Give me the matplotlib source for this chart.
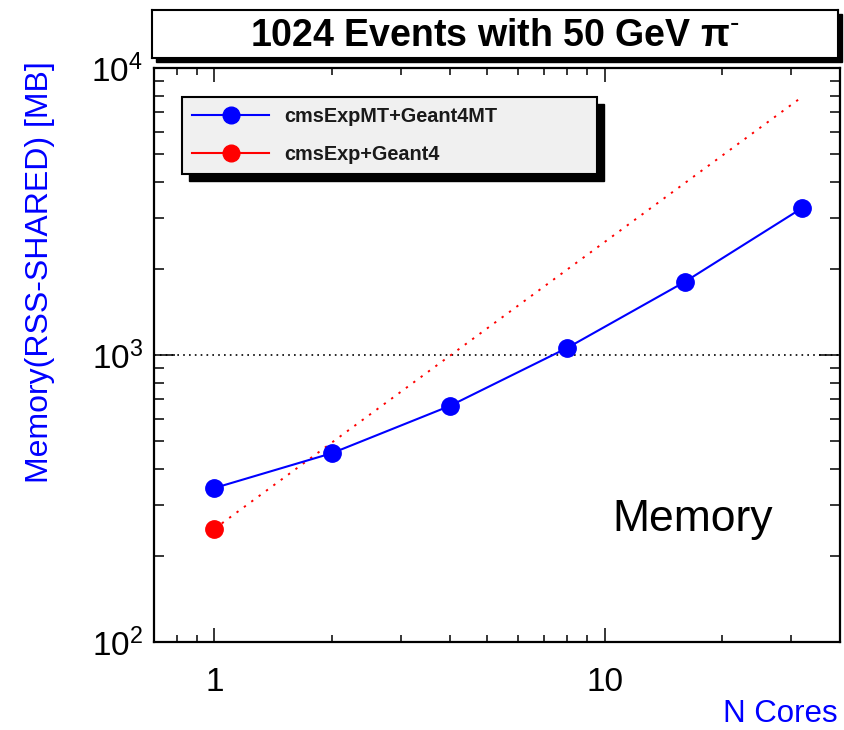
import matplotlib
matplotlib.use("Agg")
import matplotlib.pyplot as plt
from matplotlib.lines import Line2D
from matplotlib.patches import Rectangle

plt.rcParams['font.family'] = ['Liberation Sans', 'DejaVu Sans']
plt.rcParams['mathtext.default'] = 'regular'

# data
n_cores = [1, 2, 4, 8, 16, 32]
mem_mt = [344, 455, 664, 1058, 1797, 3252]        # cmsExpMT+Geant4MT
mem_seq = [248, 496, 992, 1984, 3968, 7936]       # cmsExp+Geant4, one process per core
labels = ['cmsExpMT+Geant4MT', 'cmsExp+Geant4']
title = r'1024 Events with 50 GeV π$^{\text{-}}$'

W, H = 844, 730
fig = plt.figure(figsize=(W / 100, H / 100), dpi=100)
ax = fig.add_axes([154 / W, 1 - 642 / H, 686 / W, 574 / H])

ax.plot(n_cores, mem_mt, color='blue', lw=1.5, marker='o', ms=12.5, zorder=3)
ax.plot(n_cores, mem_seq, color='red', lw=1.4, ls=(0, (1.2, 3.5)),
        marker='o', ms=12.5, markevery=[0], zorder=2)
ax.axhline(1000, color='black', lw=1.2, ls=(0, (1, 2.5)), zorder=1)

ax.set_xscale('log')
ax.set_yscale('log')
ax.set_xlim(0.7, 40)
ax.set_ylim(100, 10000)

for s in ax.spines.values():
    s.set_linewidth(1.6)
ax.tick_params(which='both', direction='in', top=True, right=True, width=1.1,
               labelsize=24)
ax.tick_params(axis='x', which='major', length=10, pad=18)
ax.tick_params(axis='x', which='minor', length=5)
ax.tick_params(axis='y', which='major', length=15, pad=8)
ax.tick_params(axis='y', which='minor', length=7)
ax.xaxis.set_major_formatter(matplotlib.ticker.FuncFormatter(lambda v, p: '%g' % v))
ax.xaxis.set_minor_formatter(matplotlib.ticker.NullFormatter())

ax.set_ylabel('Memory(RSS-SHARED) [MB]', color='blue', fontsize=23, loc='top')
ax.yaxis.set_label_coords(-0.145, 1.012)
ax.set_xlabel('N Cores', color='blue', fontsize=22.5, loc='right')
ax.xaxis.set_label_coords(0.997, -0.1)

ax.text(0.668, 0.213, 'Memory', transform=ax.transAxes, fontsize=32,
        ha='left', va='center')

# legend, ROOT style with hard shadow
handles = [Line2D([], [], color='blue', lw=1.5, marker='o', ms=12),
           Line2D([], [], color='red', lw=1.5, marker='o', ms=12)]
leg = ax.legend(handles, labels, loc='upper left',
                bbox_to_anchor=(0.0408, 0.9495, 0.605, 0.0), mode='expand',
                borderaxespad=0, numpoints=1, handlelength=3.9,
                handletextpad=0.75, labelspacing=0.95, borderpad=0.5,
                prop={'weight': 'bold', 'size': 14.3}, fancybox=False,
                facecolor='#f0f0f0', edgecolor='black', framealpha=1)
leg.get_frame().set_linewidth(1.5)
for t in leg.get_texts():
    t.set_color('#1a1a1a')

fig.canvas.draw()
bb = leg.get_window_extent()
ax.add_artist(Rectangle((bb.x0 + 7, bb.y0 - 7), bb.width, bb.height,
                        transform=None, color='black', zorder=4))

# title box
fig.add_artist(Rectangle(((152 + 4) / W, 1 - (58 + 4) / H), 686 / W, 48 / H,
                         transform=fig.transFigure, color='black', zorder=-1))
tb = fig.add_axes([152 / W, 1 - 58 / H, 686 / W, 48 / H])
tb.set_xticks([])
tb.set_yticks([])
for s in tb.spines.values():
    s.set_linewidth(1.5)
tb.text(0.5, 0.45, title, ha='center', va='center', fontsize=27,
        fontweight='bold', transform=tb.transAxes)

fig.savefig('out.png', dpi=100)
